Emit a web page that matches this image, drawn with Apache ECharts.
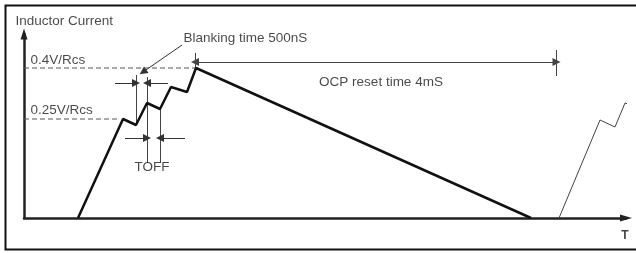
<!DOCTYPE html>
<html><head><meta charset="utf-8">
<script src="https://cdn.jsdelivr.net/npm/echarts@6/dist/echarts.min.js"></script>
<style>html,body{margin:0;padding:0;background:#fff}#c{width:636px;height:253px}</style>
</head><body><div id="c"></div>
<script>
// Units: time (t) along x, current (i) along y, origin at the axes' corner.
const waveMain = [[54,0],[99,99],[112,93],[123,115],[136,109],[147,131],[163,126],[172,150],[507,0]];
const waveNext = [[535,0],[576,98],[591,91],[601,115],[604,114]];
const level04 = 150;
const level025 = 99;
const dashed04 = [[0,level04],[171,level04]];
const dashed025 = [[0,level025],[96,level025]];
const markerLines = [
  [[112,93],[112,143]],
  [[123,55],[123,141]],
  [[136,55],[136,109]],
  [[171,150],[171,165]],
  [[532.5,142],[532.5,168]]
];
const arrowLines = [
  [[91,135],[112,135]],
  [[144,135],[123,135]],
  [[101,80],[123,80]],
  [[161,80],[136,80]],
  [[158,173],[119,146]]
];
const ocpArrow = [[171,156],[532.5,156]];
const labelsLeft = [
  {text:'Inductor Current', pos:[-9,197]},
  {text:'0.4V/Rcs', pos:[6,158]},
  {text:'0.25V/Rcs', pos:[6,108]},
  {text:'Blanking time 500nS', pos:[159,180]}
];
const labelsCenter = [
  {text:'TOFF', pos:[128,51]},
  {text:'OCP reset time 4mS', pos:[357,136]}
];
const axisName = {text:'T', pos:[601,-18]};

const FONT = 'Liberation Sans, Arial, sans-serif';
const chart = echarts.init(document.getElementById('c'));
chart.setOption({
  animation:false,
  backgroundColor:'#fff',
  graphic:[{type:'rect', shape:{x:5.5,y:5.5,width:700,height:244}, style:{fill:'none', stroke:'#111', lineWidth:2}}],
  grid:{left:24, right:10, top:34, bottom:35},
  xAxis:{type:'value', min:0, max:602, axisLabel:{show:false}, splitLine:{show:false}, axisTick:{show:false},
    axisLine:{show:true, onZero:false, symbol:['none','triangle'], symbolSize:[7,12], lineStyle:{color:'#222', width:2.5}}},
  yAxis:{type:'value', min:0, max:184, axisLabel:{show:false}, splitLine:{show:false}, axisTick:{show:false},
    axisLine:{show:true, onZero:false, symbol:['none','triangle'], symbolSize:[7,11], lineStyle:{color:'#222', width:2.5}}},
  series:[
    {type:'line', data:dashed04, symbol:'none', clip:false, lineStyle:{color:'#555', width:1, type:[5,3]}},
    {type:'line', data:dashed025, symbol:'none', clip:false, lineStyle:{color:'#555', width:1, type:[5,3]}},
    {type:'line', data:waveMain, symbol:'none', clip:false, lineStyle:{color:'#111', width:2.5}, z:5},
    {type:'line', data:waveNext, symbol:'none', clip:false, lineStyle:{color:'#444', width:1}},
    {type:'lines', coordinateSystem:'cartesian2d', clip:false, symbol:'none',
      lineStyle:{color:'#444', width:1, opacity:1},
      data:markerLines.map(c=>({coords:c}))},
    {type:'lines', coordinateSystem:'cartesian2d', clip:false, symbol:['none','triangle'], symbolSize:8,
      lineStyle:{color:'#333', width:1, opacity:1}, itemStyle:{color:'#222'},
      data:arrowLines.map(c=>({coords:c}))},
    {type:'lines', coordinateSystem:'cartesian2d', clip:false, symbol:['triangle','triangle'], symbolSize:8,
      lineStyle:{color:'#444', width:1, opacity:1},
      data:[{coords:ocpArrow}]},
    {type:'scatter', clip:false, symbolSize:1, itemStyle:{color:'rgba(0,0,0,0)'},
      label:{show:true, position:'right', distance:0, formatter:p=>p.data.name, color:'#1a1a1a', fontFamily:FONT, fontSize:13.5},
      data:labelsLeft.map(l=>({name:l.text, value:l.pos}))},
    {type:'scatter', clip:false, symbolSize:1, itemStyle:{color:'rgba(0,0,0,0)'},
      label:{show:true, position:'inside', formatter:p=>p.data.name, color:'#1a1a1a', fontFamily:FONT, fontSize:13.5},
      data:labelsCenter.map(l=>({name:l.text, value:l.pos}))},
    {type:'scatter', clip:false, symbolSize:1, itemStyle:{color:'rgba(0,0,0,0)'},
      label:{show:true, position:'inside', formatter:p=>p.data.name, color:'#111', fontFamily:FONT, fontSize:12, fontWeight:'bold'},
      data:[{name:axisName.text, value:axisName.pos}]}
  ]
});
</script></body></html>
